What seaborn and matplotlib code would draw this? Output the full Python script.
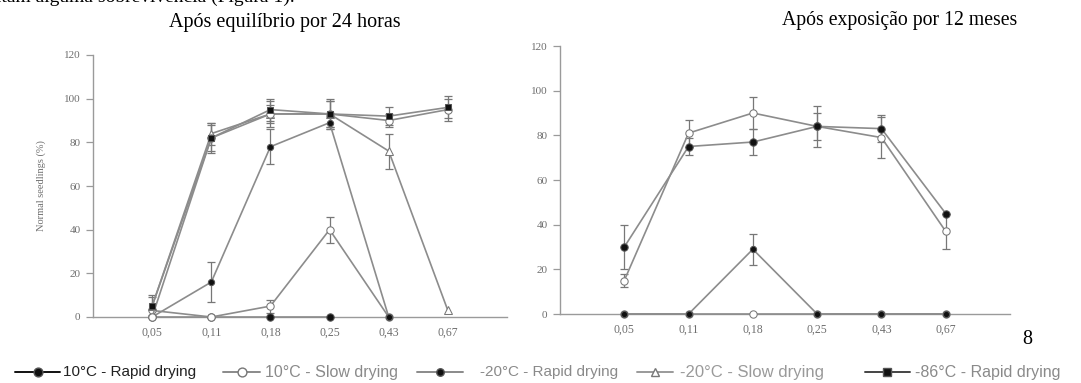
import numpy as np
import pandas as pd
import matplotlib
matplotlib.use("Agg")
import matplotlib.pyplot as plt
from matplotlib.lines import Line2D
import seaborn as sns

# ---------------- data ----------------
categories = ["0,05", "0,11", "0,18", "0,25", "0,43", "0,67"]

# Left panel: after equilibrium for 24 hours
L_86R = [5, 82, 95, 93, 92, 96]
L_86R_err = [4, 6, 5, 6, 4, 5]
L_10R = [0, 82, 93, 93, 90, 95]
L_10R_err = [0, 7, 4, 7, 3, 5]
L_20S = [5, 84, 93, 93, 76, 3]
L_20S_err = [5, 5, 6, 6, 8, 0]
L_20R = [0, 16, 78, 89, 0, np.nan]
L_20R_err = [0, 9, 8, 3, 0, np.nan]
L_10S = [3, 0, 5, 40, 0, np.nan]
L_10S_err = [0, 0, 3, 6, 0, np.nan]
L_zero = [0, 0, 0, 0, np.nan, np.nan]

# Right panel: after exposure for 12 months
R_86R = [30, 75, 77, 84, 83, 45]
R_86R_err = [10, 4, 6, 6, 6, 0]
R_10S = [15, 81, 90, 84, 79, 37]
R_10S_err = [3, 6, 7, 9, 9, 8]
R_20R = [0, 0, 29, 0, 0, 0]
R_20R_err = [0, 0, 7, 0, 0, 0]
R_20S = [0, 0, 0, 0, 0, 0]

legend_labels = ["10°C - Rapid drying", "10°C - Slow drying", "-20°C - Rapid drying",
                 "-20°C - Slow drying", "-86°C - Rapid drying"]

yticks = [0, 20, 40, 60, 80, 100, 120]

# ---------------- style ----------------
sns.set_theme(style="white")
plt.rcParams['font.family'] = ['Liberation Serif', 'DejaVu Serif']

LINE = "#8c8c8c"
AX = "#9a9a9a"
TICKC = "#6e6e6e"

W, H = 1081, 383
fig = plt.figure(figsize=(W / 100, H / 100), dpi=100)

def fx(px):
    return px / W

def fy(py):
    return 1 - py / H

axL = fig.add_axes([fx(93), fy(317), fx(507) - fx(93), fy(55) - fy(317)])
axR = fig.add_axes([fx(560), fy(314), fx(1010) - fx(560), fy(46) - fy(314)])

pos = np.arange(1, len(categories) + 1)

styles = {
    "filled": dict(marker="o", markersize=5.3, markerfacecolor="#111111", markeredgecolor="#555555"),
    "small": dict(marker="o", markersize=4.5, markerfacecolor="#111111", markeredgecolor="#555555"),
    "square": dict(marker="s", markersize=5.0, markerfacecolor="#111111", markeredgecolor="#555555"),
    "open": dict(marker="o", markersize=5.3, markerfacecolor="white", markeredgecolor="#777777"),
    "tri": dict(marker="^", markersize=5.3, markerfacecolor="white", markeredgecolor="#777777"),
}

def draw(ax, vals, style, err=None, lw=1.2):
    df = pd.DataFrame({"x": pos, "y": vals}).dropna()
    sns.lineplot(data=df, x="x", y="y", ax=ax, color=LINE, linewidth=lw,
                 clip_on=False, zorder=3, **styles[style])
    if err is not None:
        e = pd.DataFrame({"x": pos, "y": vals, "e": err}).dropna()
        e = e[e["e"] > 0]
        ax.errorbar(e["x"], e["y"], yerr=e["e"], fmt="none", ecolor="#777777",
                    elinewidth=0.9, capsize=3, capthick=0.9, zorder=2, clip_on=False)

# left panel
draw(axL, L_zero, "filled")
draw(axL, L_10S, "open", L_10S_err)
draw(axL, L_20R, "small", L_20R_err)
draw(axL, L_20S, "tri", L_20S_err)
draw(axL, L_10R, "open", L_10R_err)
draw(axL, L_86R, "square", L_86R_err)

# right panel
draw(axR, R_20S, "open")
draw(axR, R_20R, "small", R_20R_err)
draw(axR, R_10S, "open", R_10S_err)
draw(axR, R_86R, "filled", R_86R_err)

for ax in (axL, axR):
    ax.set_xlim(0, 7)
    ax.set_ylim(0, 120)
    ax.set_xticks(pos)
    ax.set_xticklabels(categories)
    ax.set_yticks(yticks)
    ax.set_yticklabels([str(t) for t in yticks])
    for s in ("top", "right"):
        ax.spines[s].set_visible(False)
    for s in ("left", "bottom"):
        ax.spines[s].set_color(AX)
        ax.spines[s].set_linewidth(1.0)
    ax.tick_params(axis="y", which="major", direction="out", length=5, width=0.9,
                   color=AX, labelsize=8, labelcolor=TICKC, pad=4, left=True)
    ax.tick_params(axis="x", which="major", length=0, labelsize=8.5,
                   labelcolor=TICKC, pad=7)
    ax.set_xlabel("")
    ax.set_ylabel("")
    ax.set_facecolor("white")
    for lab in ax.get_xticklabels() + ax.get_yticklabels():
        lab.set_fontfamily("Liberation Serif")

axL.set_ylabel("Normal seedlings (%)", fontsize=7.5, color=TICKC, labelpad=13)

# texts (the first line is a paragraph cut off by the top edge, as in the source)
fig.text(fx(-4), fy(-3), "itam alguma sobrevivência (Figura 1).", fontsize=14,
         ha="left", va="center", color="black")
fig.text(fx(285), fy(22), "Após equilíbrio por 24 horas", fontsize=14.5,
         ha="center", va="center", color="black")
fig.text(fx(900), fy(20), "Após exposição por 12 meses", fontsize=14.2,
         ha="center", va="center", color="black")
fig.text(fx(1027), fy(340), "8", fontsize=14.5, ha="center", va="center", color="black")

# legend row (manual)
leg_y = fy(372)
entries = [
    (15, 60, 63, legend_labels[0], "filled", "#111111", 11, "#222222"),
    (223, 260, 265, legend_labels[1], "open", "#8a8a8a", 11.5, "#8a8a8a"),
    (417, 463, 480, legend_labels[2], "small", "#8a8a8a", 11, "#8a8a8a"),
    (637, 673, 680, legend_labels[3], "tri", "#9a9a9a", 12, "#9a9a9a"),
    (865, 910, 915, legend_labels[4], "square", "#444444", 11.5, "#8a8a8a"),
]
for x0, x1, xt, lab, st, lc, fs, tc in entries:
    ln = Line2D([fx(x0), fx(x1)], [leg_y, leg_y], transform=fig.transFigure,
                color=lc, linewidth=1.4)
    fig.add_artist(ln)
    mk = dict(styles[st])
    mk["markersize"] = mk["markersize"] * 1.2
    fig.add_artist(Line2D([fx((x0 + x1) / 2)], [leg_y], transform=fig.transFigure,
                          linestyle="none", **mk))
    fig.text(fx(xt), leg_y, lab, fontsize=fs, ha="left", va="center", color=tc,
             family=["Liberation Sans", "DejaVu Sans"])

fig.savefig("out.png", dpi=100, facecolor="white")
